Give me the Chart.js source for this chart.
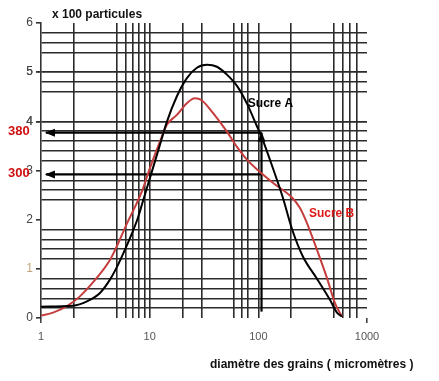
<!DOCTYPE html>
<html lang="fr">
<head>
<meta charset="UTF-8">
<title>Granulométrie - sucre A / sucre B</title>
<script src="https://cdn.jsdelivr.net/npm/chart.js@4.4.0/dist/chart.umd.min.js"></script>
<style>
  html, body { margin: 0; padding: 0; background: #fff; }
  #wrap { width: 439px; height: 381px; }
</style>
</head>
<body>
<div id="wrap"><canvas id="granuloChart" width="439" height="381"></canvas></div>
<script>
// diametre des grains (micrometres) / nombre de particules (x 100)
const sucreA_diametre = [1, 1.97, 2.65, 3.49, 4.31, 5.11, 5.93, 6.87, 7.8, 8.68, 10.06, 11.9, 14.4, 17.8, 22, 27.2, 33.7, 41.6, 51.4, 63.6, 78.6, 97.1, 110, 136, 168, 204, 257, 346, 456, 529, 588];
const sucreA_nombre   = [0.23, 0.25, 0.34, 0.51, 0.78, 1.08, 1.39, 1.72, 2.04, 2.38, 2.85, 3.38, 3.99, 4.51, 4.88, 5.09, 5.15, 5.11, 4.95, 4.72, 4.36, 3.9, 3.62, 3.05, 2.45, 1.81, 1.25, 0.8, 0.37, 0.11, 0.03];

const sucreB_diametre = [1, 1.29, 1.73, 2.28, 3.27, 4.31, 5.11, 6.17, 7.33, 8.46, 10.06, 12.4, 14.4, 17.8, 22, 26, 30.1, 38.2, 51.4, 63.6, 78.6, 98.8, 136, 204, 241, 279, 346, 427, 506, 588];
const sucreB_nombre   = [0.05, 0.11, 0.24, 0.44, 0.82, 1.18, 1.51, 1.92, 2.26, 2.57, 3.05, 3.58, 3.93, 4.13, 4.37, 4.47, 4.43, 4.17, 3.79, 3.48, 3.22, 3.01, 2.75, 2.45, 2.24, 1.94, 1.39, 0.82, 0.31, 0.03];

// lignes du papier millimetre (irregulier sur l'original)
const xGrid = [1, 2, 5, 6, 7, 8, 9, 10, 20, 30, 60, 70, 80, 100, 200, 500, 600, 700, 800, 1000];
const yGrid = [0.2, 0.4, 0.6, 0.8, 1.2, 1.4, 1.6, 1.8, 2.4, 2.6, 2.8, 3.2, 3.4, 3.6, 3.8, 4, 4.6, 4.8, 5, 5.4, 5.6, 5.8];
const xTickLabels = [1, 10, 100, 1000];
const yTickLabels = [0, 1, 2, 3, 4, 5, 6];

// lecture graphique : fleches
const lectureDiametre = 107;
const lectureNiveaux = [3.77, 2.92];
const lectureLabels = ['380', '300'];
const flecheBoutX = 1.11;
const flecheDepartY = 0.13;

const FONT = "'Liberation Sans', Arial, sans-serif";
const GRID = '#2b2b2b';

const arrowDs = (pts) => ({
  data: pts, arrow: true, borderColor: '#000', borderWidth: 2.2,
  pointRadius: 0, tension: 0, fill: false
});

const annotations = {
  id: 'annotations',
  afterDatasetsDraw(chart) {
    const { ctx, scales: { x, y } } = chart;

    // pointes de fleches
    chart.data.datasets.forEach((ds, i) => {
      if (!ds.arrow) return;
      const pts = chart.getDatasetMeta(i).data;
      const a = pts[pts.length - 2], b = pts[pts.length - 1];
      const ang = Math.atan2(b.y - a.y, b.x - a.x);
      ctx.save();
      ctx.translate(b.x, b.y);
      ctx.rotate(ang);
      ctx.beginPath();
      ctx.moveTo(1, 0);
      ctx.lineTo(-9, -4);
      ctx.lineTo(-9, 4);
      ctx.closePath();
      ctx.fillStyle = '#000';
      ctx.fill();
      ctx.restore();
    });

    ctx.save();
    ctx.textBaseline = 'middle';
    ctx.textAlign = 'left';

    // valeurs lues
    ctx.font = 'bold 13px ' + FONT;
    ctx.fillStyle = '#d01010';
    lectureNiveaux.forEach((v, i) => ctx.fillText(lectureLabels[i], 8, y.getPixelForValue(v) - 1));

    // noms des courbes
    ctx.font = 'bold 12px ' + FONT;
    ctx.fillStyle = '#000';
    ctx.fillText('Sucre A', x.getPixelForValue(80), y.getPixelForValue(4.36));
    ctx.fillStyle = '#e01818';
    ctx.fillText('Sucre B', x.getPixelForValue(292), y.getPixelForValue(2.12));

    // titres des axes
    ctx.fillStyle = '#111';
    ctx.fillText('x 100 particules', 52, 15);
    ctx.fillText('diamètre des grains ( micromètres )', 210, 365);
    ctx.restore();
  }
};

const ctx = document.getElementById('granuloChart').getContext('2d');
new Chart(ctx, {
  type: 'line',
  data: {
    datasets: [
      {
        label: 'Sucre A',
        data: sucreA_diametre.map((d, i) => ({ x: d, y: sucreA_nombre[i] })),
        borderColor: '#000', borderWidth: 2, pointRadius: 0,
        cubicInterpolationMode: 'monotone', fill: false
      },
      {
        label: 'Sucre B',
        data: sucreB_diametre.map((d, i) => ({ x: d, y: sucreB_nombre[i] })),
        borderColor: '#c63d3d', borderWidth: 2, pointRadius: 0,
        cubicInterpolationMode: 'monotone', fill: false
      },
      arrowDs([{ x: lectureDiametre, y: flecheDepartY }, { x: lectureDiametre, y: lectureNiveaux[0] }]),
      arrowDs([{ x: lectureDiametre, y: lectureNiveaux[0] }, { x: flecheBoutX, y: lectureNiveaux[0] }]),
      arrowDs([{ x: lectureDiametre, y: lectureNiveaux[1] }, { x: flecheBoutX, y: lectureNiveaux[1] }])
    ]
  },
  options: {
    responsive: false,
    animation: false,
    layout: { padding: { top: 23, right: 72, bottom: 0, left: 0 } },
    plugins: { legend: { display: false }, tooltip: { enabled: false } },
    scales: {
      x: {
        type: 'logarithmic',
        min: 1, max: 1000,
        afterBuildTicks: (s) => { s.ticks = xGrid.map(v => ({ value: v })); },
        afterFit: (s) => { s.height = 63; },
        border: { display: false },
        grid: {
          color: (c) => (c.tick && (c.tick.value === 1 || c.tick.value === 1000)) ? 'rgba(0,0,0,0)' : GRID,
          lineWidth: 1.6,
          tickLength: 5,
          tickColor: (c) => (c.tick && (c.tick.value === 1 || c.tick.value === 1000)) ? '#444' : 'rgba(0,0,0,0)'
        },
        ticks: {
          autoSkip: false, maxRotation: 0, padding: 7,
          color: '#555', font: { size: 11, family: FONT },
          callback: (v) => xTickLabels.includes(v) ? String(v) : ''
        }
      },
      y: {
        type: 'linear',
        min: 0, max: 6,
        afterBuildTicks: (s) => {
          s.ticks = [...yTickLabels, ...yGrid].sort((a, b) => a - b).map(v => ({ value: v }));
        },
        afterFit: (s) => { s.width = 41; },
        border: { display: true, color: '#333', width: 1.6 },
        grid: {
          color: (c) => (c.tick && yGrid.includes(c.tick.value)) ? GRID : 'rgba(0,0,0,0)',
          lineWidth: 1.6,
          tickLength: 5,
          tickColor: (c) => (c.tick && yTickLabels.includes(c.tick.value)) ? '#333' : 'rgba(0,0,0,0)'
        },
        ticks: {
          autoSkip: false, padding: 3,
          color: (c) => (c.tick && c.tick.value === 1) ? '#c4a676' : '#444',
          font: { size: 12, family: FONT },
          callback: (v) => yTickLabels.includes(v) ? String(v) : ''
        }
      }
    }
  },
  plugins: [annotations]
});
</script>
</body>
</html>
